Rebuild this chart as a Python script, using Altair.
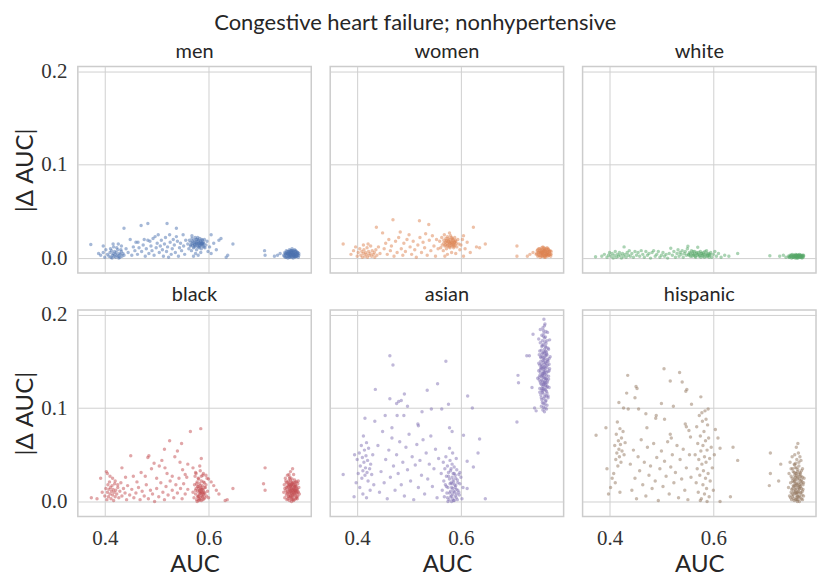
import altair as alt
import pandas as pd

groups = ["men", "women", "white", "black", "asian", "hispanic"]
colors = ["#4C72B0", "#DD8452", "#55A868", "#C44E52", "#8172B3", "#937860"]
x_ticks = [0.4, 0.6]
y_ticks = [0.0, 0.1, 0.2]

men = [
    (0.405,0.004),(0.408,0.002),(0.410,0.006),(0.412,0.001),(0.413,0.008),(0.415,0.003),(0.416,0.005),(0.418,0.002),
    (0.419,0.007),(0.420,0.004),(0.421,0.001),(0.422,0.006),(0.424,0.003),(0.425,0.009),(0.426,0.002),(0.428,0.005),
    (0.429,0.001),(0.430,0.004),(0.432,0.007),(0.433,0.002),(0.435,0.005),(0.437,0.003),(0.411,0.010),(0.417,0.012),
    (0.423,0.011),(0.414,0.000),(0.427,0.000),(0.431,0.009),
    (0.373,0.0145),(0.388,0.005),(0.392,0.003),(0.397,0.013),(0.397,0.006),(0.400,0.001),(0.402,0.009),
    (0.416,0.015),(0.426,0.015),(0.432,0.013),(0.437,0.032),(0.441,0.010),(0.445,0.006),(0.449,0.020),(0.452,0.003),
    (0.455,0.012),(0.458,0.008),(0.460,0.017),(0.463,0.004),(0.464,0.017),(0.466,0.011),(0.470,0.035),(0.471,0.007),
    (0.474,0.014),(0.476,0.020),(0.478,0.002),(0.480,0.010),(0.483,0.037),(0.483,0.019),(0.485,0.005),(0.487,0.018),
    (0.489,0.013),(0.491,0.008),(0.493,0.021),(0.495,0.003),(0.497,0.023),(0.499,0.011),(0.501,0.016),(0.503,0.025),
    (0.505,0.006),(0.507,0.013),(0.509,0.019),(0.511,0.009),(0.513,0.002),(0.515,0.015),(0.517,0.022),(0.519,0.007),
    (0.520,0.037),(0.521,0.012),(0.523,0.001),(0.525,0.025),(0.526,0.017),(0.528,0.004),(0.530,0.010),(0.532,0.020),
    (0.534,0.014),(0.536,0.006),(0.538,0.032),(0.538,0.023),(0.540,0.018),(0.542,0.002),(0.544,0.011),(0.546,0.016),
    (0.548,0.008),(0.551,0.025),(0.552,0.013),(0.554,0.004),(0.556,0.019),
    (0.560,0.015),(0.562,0.010),(0.563,0.019),(0.565,0.013),(0.566,0.017),(0.567,0.008),(0.568,0.021),(0.569,0.014),
    (0.570,0.016),(0.571,0.011),(0.572,0.019),(0.573,0.015),(0.574,0.022),(0.575,0.013),(0.576,0.017),(0.577,0.009),
    (0.578,0.020),(0.579,0.015),(0.580,0.018),(0.581,0.012),(0.582,0.016),(0.583,0.021),(0.584,0.014),(0.585,0.018),
    (0.586,0.010),(0.587,0.016),(0.588,0.019),(0.589,0.013),(0.590,0.017),(0.591,0.015),(0.592,0.020),(0.593,0.011),
    (0.595,0.014),(0.597,0.018),(0.599,0.007),(0.575,0.005),(0.580,0.003),(0.571,0.002),(0.585,0.006),(0.568,0.024),
    (0.566,0.014),(0.569,0.018),(0.572,0.012),(0.574,0.017),(0.576,0.020),(0.578,0.013),(0.580,0.015),(0.581,0.019),
    (0.583,0.013),(0.584,0.017),(0.586,0.014),(0.587,0.020),(0.589,0.016),(0.591,0.012),(0.577,0.016),(0.582,0.011),
    (0.585,0.016),(0.579,0.022),(0.573,0.014),(0.588,0.015),
    (0.602,0.012),(0.605,0.025),(0.605,0.005),(0.610,0.016),(0.615,0.009),(0.620,0.019),(0.624,0.021),(0.634,0.001),
    (0.637,0.003),(0.647,0.015),
    (0.708,0.008),(0.709,0.003),(0.727,0.002),(0.733,0.003),(0.738,0.005),
    (0.745,0.003),(0.747,0.006),(0.748,0.001),(0.749,0.004),(0.750,0.008),(0.751,0.002),(0.752,0.005),(0.753,0.000),
    (0.754,0.007),(0.755,0.003),(0.756,0.009),(0.757,0.001),(0.758,0.005),(0.759,0.006),(0.760,0.002),(0.761,0.008),
    (0.762,0.004),(0.763,0.000),(0.764,0.006),(0.765,0.003),(0.766,0.009),(0.767,0.001),(0.768,0.005),(0.769,0.007),
    (0.770,0.002),(0.771,0.004),(0.772,0.006),(0.773,0.001),(0.774,0.003),(0.756,0.005),(0.760,0.004),(0.764,0.002),
    (0.758,0.008),(0.762,0.007),(0.766,0.004),(0.750,0.005),(0.754,0.002),(0.768,0.002),(0.761,0.010),(0.757,0.003),
    (0.746,0.002),(0.748,0.005),(0.750,0.001),(0.752,0.007),(0.753,0.004),(0.755,0.006),(0.756,0.001),(0.757,0.007),
    (0.759,0.003),(0.760,0.006),(0.761,0.001),(0.763,0.005),(0.764,0.008),(0.765,0.002),(0.767,0.005),(0.768,0.008),
    (0.769,0.002),(0.771,0.006),(0.772,0.003),(0.774,0.005),(0.758,0.002),(0.762,0.006),(0.766,0.002),(0.770,0.005),
    (0.754,0.005),(0.760,0.008),(0.764,0.004),(0.757,0.004),(0.763,0.003),(0.767,0.007),
]

women = [
    (0.373,0.015),(0.388,0.004),(0.393,0.008),(0.397,0.012),(0.400,0.002),(0.402,0.006),(0.405,0.010),(0.407,0.003),
    (0.409,0.007),(0.410,0.001),(0.412,0.005),(0.413,0.009),(0.415,0.002),(0.416,0.006),(0.418,0.004),(0.419,0.011),
    (0.420,0.001),(0.422,0.007),(0.423,0.003),(0.425,0.005),(0.426,0.013),(0.428,0.002),(0.429,0.008),(0.431,0.004),
    (0.433,0.006),(0.434,0.001),(0.436,0.009),(0.438,0.003),(0.412,0.014),(0.421,0.015),(0.437,0.033),(0.441,0.012),
    (0.444,0.005),(0.449,0.027),(0.452,0.010),
    (0.455,0.016),(0.458,0.004),(0.461,0.020),(0.464,0.008),(0.466,0.013),(0.469,0.041),(0.471,0.002),(0.474,0.018),
    (0.477,0.006),(0.480,0.022),(0.483,0.028),(0.485,0.010),(0.488,0.003),(0.490,0.016),(0.493,0.007),(0.496,0.020),
    (0.500,0.025),(0.502,0.012),(0.505,0.004),(0.508,0.018),(0.511,0.009),(0.514,0.001),(0.517,0.014),(0.520,0.040),
    (0.521,0.022),(0.524,0.006),(0.527,0.017),(0.530,0.011),(0.532,0.026),(0.535,0.003),(0.538,0.036),(0.539,0.019),
    (0.542,0.008),(0.545,0.024),(0.548,0.013),(0.551,0.002),(0.553,0.020),(0.556,0.010),
    (0.559,0.018),(0.561,0.011),(0.563,0.022),(0.564,0.014),(0.566,0.008),(0.567,0.019),(0.568,0.025),(0.569,0.013),
    (0.570,0.017),(0.571,0.021),(0.572,0.010),(0.573,0.016),(0.574,0.023),(0.575,0.014),(0.576,0.018),(0.577,0.012),
    (0.578,0.020),(0.579,0.016),(0.580,0.024),(0.581,0.013),(0.582,0.017),(0.583,0.021),(0.584,0.015),(0.585,0.019),
    (0.586,0.011),(0.587,0.017),(0.588,0.022),(0.589,0.014),(0.590,0.018),(0.592,0.012),(0.594,0.020),(0.596,0.015),
    (0.598,0.009),(0.574,0.004),(0.582,0.006),(0.569,0.002),(0.590,0.005),(0.578,0.027),
    (0.567,0.016),(0.570,0.014),(0.572,0.019),(0.574,0.013),(0.576,0.021),(0.578,0.015),(0.580,0.018),(0.581,0.014),
    (0.583,0.017),(0.584,0.020),(0.586,0.015),(0.587,0.013),(0.589,0.019),(0.591,0.016),(0.577,0.017),(0.582,0.022),
    (0.585,0.013),(0.579,0.011),(0.573,0.018),(0.588,0.017),
    (0.600,0.014),(0.603,0.020),(0.605,0.024),(0.608,0.010),(0.612,0.017),(0.618,0.006),(0.624,0.033),(0.630,0.012),
    (0.636,0.011),(0.647,0.015),(0.605,0.002),
    (0.708,0.013),(0.708,0.002),(0.728,0.002),(0.733,0.004),(0.739,0.006),
    (0.745,0.004),(0.747,0.008),(0.748,0.002),(0.749,0.006),(0.750,0.010),(0.751,0.003),(0.752,0.007),(0.753,0.001),
    (0.754,0.009),(0.755,0.005),(0.756,0.011),(0.757,0.002),(0.758,0.006),(0.759,0.008),(0.760,0.003),(0.761,0.010),
    (0.762,0.005),(0.763,0.001),(0.764,0.007),(0.765,0.004),(0.766,0.011),(0.767,0.002),(0.768,0.006),(0.769,0.009),
    (0.770,0.003),(0.771,0.005),(0.772,0.008),(0.773,0.002),(0.774,0.004),(0.756,0.006),(0.760,0.007),(0.764,0.003),
    (0.758,0.012),(0.762,0.009),(0.766,0.006),(0.750,0.006),(0.754,0.003),(0.768,0.004),(0.761,0.001),(0.757,0.005),
    (0.746,0.005),(0.748,0.009),(0.750,0.003),(0.752,0.010),(0.753,0.006),(0.755,0.008),(0.756,0.002),(0.757,0.009),
    (0.759,0.004),(0.760,0.008),(0.761,0.002),(0.763,0.007),(0.764,0.010),(0.765,0.003),(0.767,0.007),(0.768,0.010),
    (0.769,0.003),(0.771,0.007),(0.772,0.004),(0.774,0.007),(0.758,0.003),(0.762,0.008),(0.766,0.004),(0.770,0.007),
    (0.754,0.006),(0.760,0.011),(0.764,0.005),(0.757,0.006),(0.763,0.004),(0.767,0.009),
]

white = [
    (0.373,0.0015),(0.385,0.002),(0.390,0.004),(0.395,0.001),(0.398,0.003),(0.400,0.006),(0.403,0.002),(0.405,0.005),
    (0.407,0.000),(0.409,0.003),(0.411,0.007),(0.413,0.001),(0.415,0.004),(0.417,0.002),(0.419,0.006),(0.421,0.003),
    (0.423,0.000),(0.425,0.005),(0.427,0.002),(0.428,0.012),(0.430,0.004),(0.432,0.001),(0.434,0.006),(0.436,0.003),
    (0.438,0.008),(0.440,0.002),(0.443,0.005),(0.446,0.001),(0.449,0.007),(0.452,0.003),
    (0.455,0.006),(0.458,0.002),(0.461,0.008),(0.464,0.004),(0.467,0.001),(0.470,0.007),(0.473,0.003),(0.476,0.005),
    (0.479,0.000),(0.482,0.006),(0.485,0.008),(0.488,0.002),(0.491,0.004),(0.494,0.007),(0.497,0.001),(0.500,0.003),
    (0.503,0.006),(0.506,0.002),(0.509,0.004),(0.512,0.000),(0.515,0.005),(0.518,0.0105),(0.521,0.003),(0.524,0.007),
    (0.527,0.001),
    (0.530,0.005),(0.532,0.009),(0.534,0.002),(0.536,0.006),(0.538,0.004),(0.540,0.008),(0.542,0.001),(0.544,0.005),
    (0.546,0.007),(0.548,0.003),(0.550,0.010),(0.551,0.0127),(0.552,0.004),(0.554,0.006),(0.556,0.002),(0.558,0.008),
    (0.560,0.005),(0.562,0.003),(0.564,0.007),(0.566,0.001),(0.568,0.006),(0.570,0.0116),(0.571,0.004),(0.573,0.002),
    (0.575,0.007),(0.577,0.005),(0.579,0.003),(0.581,0.006),(0.583,0.001),(0.585,0.004),(0.587,0.008),(0.589,0.002),
    (0.591,0.005),(0.593,0.003),(0.595,0.006),(0.597,0.001),(0.600,0.004),(0.603,0.007),(0.606,0.002),(0.610,0.005),
    (0.615,0.001),(0.622,0.003),(0.630,0.002),(0.647,0.005),
    (0.553,0.003),(0.556,0.005),(0.559,0.002),(0.561,0.007),(0.563,0.004),(0.565,0.002),(0.567,0.005),(0.569,0.003),
    (0.572,0.006),(0.574,0.003),(0.576,0.001),(0.578,0.005),(0.580,0.002),(0.582,0.004),(0.584,0.007),(0.586,0.002),
    (0.588,0.005),(0.590,0.003),(0.592,0.001),(0.594,0.004),
    (0.709,0.0025),(0.728,0.002),(0.735,0.003),(0.740,0.001),
    (0.745,0.002),(0.747,0.001),(0.748,0.003),(0.750,0.002),(0.751,0.000),(0.752,0.004),(0.754,0.001),(0.755,0.003),
    (0.757,0.002),(0.758,0.000),(0.759,0.004),(0.760,0.001),(0.761,0.003),(0.762,0.002),(0.763,0.000),(0.764,0.003),
    (0.765,0.001),(0.766,0.004),(0.767,0.002),(0.768,0.001),(0.769,0.003),(0.770,0.002),(0.771,0.000),(0.772,0.002),
    (0.773,0.001),(0.774,0.003),(0.756,0.002),(0.762,0.003),
    (0.746,0.001),(0.749,0.002),(0.751,0.003),(0.753,0.001),(0.756,0.003),(0.758,0.002),(0.760,0.003),(0.762,0.001),
    (0.764,0.002),(0.766,0.002),(0.768,0.003),(0.770,0.001),(0.772,0.003),(0.774,0.002),(0.755,0.001),(0.759,0.002),
    (0.763,0.002),(0.767,0.001),(0.761,0.000),(0.765,0.003),
]

black = [
    (0.374,0.004),(0.385,0.003),(0.392,0.025),(0.395,0.010),(0.403,0.032),(0.405,0.030),(0.410,0.027),(0.415,0.025),
    (0.420,0.022),(0.425,0.018),(0.433,0.036),(0.440,0.026),(0.450,0.049),(0.455,0.027),(0.462,0.021),(0.470,0.031),
    (0.478,0.027),(0.483,0.047),(0.485,0.049),(0.490,0.035),(0.495,0.041),(0.500,0.025),(0.505,0.038),(0.510,0.044),
    (0.515,0.056),(0.516,0.036),(0.520,0.030),(0.525,0.065),(0.530,0.027),(0.535,0.048),(0.540,0.054),(0.545,0.042),
    (0.548,0.062),(0.550,0.034),(0.555,0.029),(0.560,0.040),(0.565,0.075),(0.570,0.036),(0.575,0.031),(0.585,0.078),
    (0.586,0.046),(0.590,0.030),(0.595,0.028),(0.600,0.024),(0.605,0.021),(0.610,0.017),(0.615,0.012),(0.620,0.008),
    (0.632,0.001),(0.636,0.002),(0.647,0.014),(0.706,0.019),(0.709,0.036),(0.709,0.012),
    (0.400,0.006),(0.402,0.014),(0.404,0.002),(0.405,0.010),(0.406,0.018),(0.407,0.005),(0.408,0.013),(0.409,0.021),
    (0.410,0.008),(0.411,0.015),(0.412,0.003),(0.413,0.011),(0.414,0.017),(0.415,0.007),(0.416,0.013),(0.417,0.001),
    (0.418,0.010),(0.419,0.019),(0.420,0.005),(0.421,0.012),(0.423,0.008),(0.425,0.015),(0.427,0.004),(0.429,0.011),
    (0.431,0.020),(0.433,0.006),(0.436,0.014),(0.439,0.009),(0.442,0.002),(0.444,0.017),
    (0.448,0.007),(0.452,0.013),(0.456,0.004),(0.460,0.009),(0.465,0.015),(0.468,0.002),(0.472,0.011),(0.476,0.006),
    (0.480,0.018),(0.484,0.003),(0.488,0.012),(0.492,0.008),(0.496,0.000),(0.500,0.014),(0.504,0.005),(0.508,0.020),
    (0.512,0.010),(0.515,0.002),(0.518,0.016),(0.522,0.007),(0.526,0.022),(0.530,0.012),(0.533,0.004),(0.537,0.018),
    (0.540,0.009),(0.543,0.025),(0.546,0.014),(0.549,0.003),(0.552,0.019),(0.555,0.008),(0.558,0.026),(0.560,0.013),
    (0.570,0.010),(0.572,0.004),(0.573,0.018),(0.574,0.027),(0.575,0.008),(0.576,0.014),(0.577,0.002),(0.578,0.021),
    (0.579,0.011),(0.580,0.006),(0.580,0.016),(0.581,0.024),(0.582,0.003),(0.582,0.012),(0.583,0.019),(0.584,0.008),
    (0.584,0.033),(0.585,0.014),(0.586,0.001),(0.586,0.022),(0.587,0.010),(0.588,0.005),(0.588,0.017),(0.589,0.028),
    (0.590,0.012),(0.591,0.003),(0.592,0.020),(0.593,0.009),(0.594,0.015),(0.596,0.006),(0.597,0.025),(0.598,0.011),
    (0.600,0.004),(0.578,0.000),(0.583,0.038),(0.576,0.030),(0.590,0.007),(0.585,0.009),(0.581,0.005),(0.587,0.013),
    (0.575,0.012),(0.577,0.019),(0.579,0.005),(0.580,0.025),(0.581,0.014),(0.582,0.008),(0.583,0.002),(0.584,0.017),
    (0.585,0.011),(0.586,0.027),(0.587,0.006),(0.588,0.013),(0.589,0.002),(0.590,0.021),(0.591,0.010),(0.592,0.015),
    (0.593,0.004),(0.595,0.018),(0.583,0.011),(0.585,0.004),(0.588,0.009),(0.579,0.016),(0.591,0.008),(0.586,0.015),
    (0.581,0.001),
    (0.745,0.010),(0.746,0.018),(0.747,0.004),(0.748,0.025),(0.749,0.012),(0.750,0.007),(0.750,0.020),(0.751,0.002),
    (0.752,0.015),(0.752,0.028),(0.753,0.009),(0.754,0.022),(0.754,0.005),(0.755,0.013),(0.756,0.018),(0.756,0.001),
    (0.757,0.010),(0.757,0.026),(0.758,0.006),(0.758,0.016),(0.759,0.021),(0.759,0.011),(0.760,0.003),(0.760,0.014),
    (0.761,0.008),(0.761,0.024),(0.762,0.012),(0.762,0.017),(0.763,0.005),(0.763,0.020),(0.764,0.010),(0.764,0.029),
    (0.765,0.015),(0.765,0.002),(0.766,0.012),(0.766,0.023),(0.767,0.007),(0.767,0.018),(0.768,0.011),(0.769,0.004),
    (0.769,0.016),(0.770,0.021),(0.770,0.009),(0.771,0.013),(0.772,0.006),(0.772,0.019),(0.773,0.010),(0.774,0.015),
    (0.775,0.008),(0.758,0.032),(0.762,0.035),(0.755,0.029),(0.760,0.000),(0.764,0.001),(0.756,0.008),(0.768,0.003),
    (0.753,0.017),(0.761,0.019),(0.766,0.016),(0.759,0.006),
    (0.747,0.014),(0.749,0.022),(0.751,0.009),(0.753,0.003),(0.755,0.019),(0.756,0.012),(0.757,0.004),(0.758,0.023),
    (0.759,0.015),(0.760,0.009),(0.761,0.020),(0.762,0.002),(0.763,0.013),(0.764,0.018),(0.765,0.007),(0.766,0.020),
    (0.767,0.012),(0.768,0.017),(0.769,0.009),(0.770,0.014),(0.771,0.003),(0.772,0.011),(0.773,0.022),(0.750,0.015),
    (0.752,0.011),(0.754,0.016),(0.756,0.025),(0.758,0.011),(0.760,0.018),(0.762,0.007),(0.764,0.014),(0.766,0.009),
    (0.768,0.021),(0.770,0.005),(0.757,0.014),(0.761,0.012),(0.765,0.011),(0.759,0.017),(0.763,0.009),(0.755,0.006),
    (0.767,0.015),(0.753,0.020),(0.769,0.012),(0.761,0.004),(0.757,0.018),
]

asian = [
    (0.760,0.195),(0.762,0.190),(0.758,0.186),(0.764,0.182),(0.756,0.178),(0.761,0.175),(0.766,0.172),(0.753,0.170),
    (0.759,0.168),(0.763,0.166),(0.768,0.164),(0.755,0.162),(0.760,0.160),(0.765,0.158),(0.751,0.157),(0.757,0.155),
    (0.762,0.153),(0.767,0.152),(0.754,0.150),(0.759,0.149),(0.764,0.148),(0.770,0.147),(0.752,0.146),(0.757,0.145),
    (0.761,0.144),(0.766,0.143),(0.756,0.142),(0.760,0.141),(0.763,0.140),(0.768,0.139),(0.753,0.138),(0.758,0.137),
    (0.762,0.136),(0.765,0.135),(0.755,0.134),(0.760,0.133),(0.764,0.132),(0.769,0.131),(0.751,0.130),(0.757,0.129),
    (0.761,0.128),(0.766,0.127),(0.754,0.126),(0.759,0.125),(0.763,0.124),(0.767,0.123),(0.756,0.121),(0.761,0.120),
    (0.765,0.118),(0.752,0.117),(0.758,0.116),(0.762,0.114),(0.768,0.113),(0.755,0.111),(0.760,0.110),(0.764,0.108),
    (0.757,0.106),(0.762,0.104),(0.759,0.101),(0.765,0.099),(0.761,0.096),(0.758,0.159),(0.763,0.161),(0.757,0.167),
    (0.764,0.156),(0.760,0.152),(0.766,0.150),(0.755,0.147),(0.761,0.138),(0.759,0.143),(0.763,0.130),(0.757,0.135),
    (0.760,0.127),(0.765,0.122),(0.756,0.119),(0.762,0.171),(0.760,0.180),(0.770,0.140),(0.750,0.140),(0.772,0.155),
    (0.748,0.132),
    (0.753,0.184),(0.767,0.181),(0.759,0.177),(0.750,0.174),(0.771,0.173),(0.764,0.169),(0.756,0.166),(0.769,0.163),
    (0.752,0.161),(0.761,0.159),(0.766,0.157),(0.754,0.154),(0.770,0.153),(0.758,0.151),(0.763,0.149),(0.750,0.148),
    (0.767,0.146),(0.755,0.144),(0.762,0.143),(0.771,0.142),(0.753,0.141),(0.759,0.139),(0.765,0.138),(0.757,0.136),
    (0.769,0.134),(0.751,0.133),(0.762,0.132),(0.756,0.130),(0.767,0.129),(0.753,0.128),(0.760,0.126),(0.764,0.125),
    (0.758,0.123),(0.770,0.122),(0.752,0.121),(0.763,0.119),(0.757,0.117),(0.766,0.116),(0.754,0.114),(0.761,0.112),
    (0.768,0.111),(0.756,0.109),(0.763,0.107),(0.759,0.105),(0.766,0.103),(0.755,0.102),(0.762,0.100),(0.758,0.098),
    (0.765,0.160),(0.756,0.158),(0.762,0.156),(0.759,0.154),(0.764,0.145),(0.754,0.143),(0.761,0.147),(0.758,0.133),
    (0.765,0.131),(0.760,0.137),(0.756,0.125),(0.763,0.127),(0.759,0.121),(0.765,0.113),(0.758,0.119),(0.761,0.163),
    (0.757,0.172),(0.763,0.176),(0.759,0.183),(0.761,0.188),(0.764,0.165),(0.754,0.155),(0.768,0.150),(0.752,0.135),
    (0.727,0.156),(0.732,0.156),(0.739,0.179),(0.737,0.122),(0.710,0.135),(0.711,0.127),(0.708,0.085),(0.742,0.100),
    (0.745,0.097),
    (0.463,0.156),(0.469,0.146),(0.571,0.150),(0.555,0.126),(0.535,0.119),(0.435,0.120),(0.463,0.110),(0.476,0.105),
    (0.480,0.107),(0.485,0.108),(0.491,0.115),(0.497,0.102),(0.576,0.104),(0.563,0.099),(0.543,0.099),(0.525,0.096),
    (0.454,0.092),(0.477,0.092),(0.490,0.092),(0.415,0.089),(0.434,0.086),(0.517,0.083),(0.518,0.081),(0.467,0.079),
    (0.578,0.079),(0.583,0.075),(0.613,0.113),(0.622,0.100),(0.636,0.067),(0.633,0.052),(0.624,0.037),(0.647,0.003),
    (0.612,0.014),(0.605,0.071),(0.612,0.043),(0.373,0.029),(0.394,0.005),
    (0.400,0.045),(0.402,0.030),(0.404,0.052),(0.406,0.038),(0.408,0.060),(0.409,0.025),(0.410,0.047),(0.411,0.033),
    (0.412,0.070),(0.413,0.042),(0.414,0.055),(0.415,0.028),(0.416,0.036),(0.417,0.049),(0.418,0.063),(0.419,0.031),
    (0.420,0.044),(0.421,0.022),(0.422,0.057),(0.424,0.035),(0.426,0.040),(0.428,0.029),(0.430,0.050),(0.405,0.015),
    (0.411,0.008),(0.418,0.004),(0.425,0.012),(0.432,0.018),(0.398,0.020),(0.395,0.050),
    (0.440,0.060),(0.443,0.010),(0.446,0.032),(0.449,0.075),(0.452,0.020),(0.455,0.045),(0.458,0.003),(0.461,0.055),
    (0.464,0.026),(0.467,0.068),(0.470,0.038),(0.473,0.012),(0.476,0.050),(0.479,0.030),(0.482,0.064),(0.485,0.018),
    (0.488,0.042),(0.491,0.006),(0.494,0.058),(0.497,0.034),(0.500,0.072),(0.503,0.022),(0.506,0.048),(0.509,0.002),
    (0.512,0.039),(0.515,0.061),(0.518,0.015),(0.521,0.044),(0.524,0.028),(0.527,0.066),(0.530,0.008),(0.533,0.052),
    (0.536,0.024),(0.539,0.040),(0.542,0.070),(0.545,0.016),(0.548,0.035),(0.551,0.056),(0.554,0.004),(0.557,0.046),
    (0.562,0.030),(0.564,0.012),(0.566,0.042),(0.567,0.022),(0.568,0.005),(0.569,0.035),(0.570,0.018),(0.571,0.048),
    (0.572,0.027),(0.573,0.009),(0.574,0.038),(0.575,0.015),(0.576,0.031),(0.577,0.002),(0.578,0.024),(0.579,0.044),
    (0.580,0.011),(0.580,0.033),(0.581,0.020),(0.582,0.006),(0.583,0.040),(0.583,0.026),(0.584,0.014),(0.585,0.030),
    (0.586,0.001),(0.586,0.021),(0.587,0.037),(0.588,0.010),(0.589,0.028),(0.590,0.017),(0.591,0.004),(0.592,0.034),
    (0.593,0.023),(0.594,0.012),(0.596,0.029),(0.597,0.007),(0.598,0.019),(0.600,0.026),(0.602,0.003),(0.604,0.015),
    (0.584,0.052),(0.578,0.057),(0.591,0.046),(0.575,0.000),(0.582,0.000),
    (0.572,0.016),(0.574,0.004),(0.576,0.027),(0.578,0.009),(0.579,0.019),(0.581,0.035),(0.582,0.015),(0.584,0.003),
    (0.585,0.023),(0.586,0.011),(0.587,0.030),(0.588,0.018),(0.589,0.006),(0.590,0.025),(0.591,0.013),(0.593,0.002),
    (0.594,0.020),(0.596,0.010),(0.598,0.031),(0.584,0.008),(0.587,0.001),(0.580,0.005),(0.589,0.015),(0.583,0.019),
    (0.592,0.008),
]

hispanic = [
    (0.505,0.142),(0.535,0.138),(0.435,0.135),(0.517,0.129),(0.451,0.123),(0.453,0.121),(0.549,0.120),(0.547,0.118),
    (0.540,0.128),(0.433,0.116),(0.449,0.111),(0.576,0.112),(0.500,0.105),(0.558,0.104),(0.418,0.106),(0.427,0.100),
    (0.436,0.099),(0.456,0.099),(0.523,0.102),(0.590,0.099),(0.374,0.071),(0.393,0.079),(0.490,0.092),(0.489,0.089),
    (0.470,0.094),(0.506,0.088),(0.472,0.079),(0.517,0.072),(0.519,0.068),(0.546,0.083),(0.548,0.080),(0.553,0.076),
    (0.556,0.069),(0.604,0.077),(0.609,0.068),(0.613,0.057),(0.638,0.058),(0.647,0.044),(0.633,0.005),(0.613,0.000),
    (0.710,0.052),(0.710,0.030),(0.708,0.017),(0.730,0.040),(0.726,0.022),
    (0.410,0.060),(0.412,0.045),(0.413,0.072),(0.414,0.052),(0.415,0.085),(0.416,0.038),(0.417,0.065),(0.418,0.056),
    (0.419,0.048),(0.420,0.078),(0.421,0.061),(0.422,0.042),(0.423,0.068),(0.424,0.054),(0.426,0.075),(0.428,0.050),
    (0.430,0.063),(0.408,0.030),(0.411,0.020),(0.402,0.015),(0.398,0.008),(0.405,0.025),(0.395,0.035),(0.420,0.010),
    (0.440,0.040),(0.443,0.012),(0.446,0.055),(0.449,0.025),(0.452,0.003),(0.455,0.048),(0.458,0.033),(0.461,0.066),
    (0.464,0.018),(0.467,0.042),(0.470,0.006),(0.473,0.058),(0.476,0.028),(0.479,0.038),(0.482,0.014),(0.485,0.062),
    (0.488,0.022),(0.491,0.047),(0.494,0.001),(0.497,0.035),(0.500,0.054),(0.503,0.016),(0.506,0.043),(0.509,0.027),
    (0.512,0.064),(0.515,0.008),(0.518,0.037),(0.521,0.050),(0.524,0.020),(0.527,0.031),(0.530,0.060),(0.533,0.004),
    (0.536,0.045),(0.539,0.024),(0.542,0.056),(0.545,0.012),(0.548,0.036),(0.551,0.002),(0.554,0.050),(0.557,0.026),
    (0.565,0.050),(0.567,0.020),(0.568,0.080),(0.569,0.035),(0.570,0.062),(0.571,0.010),(0.572,0.045),(0.573,0.092),
    (0.574,0.028),(0.575,0.070),(0.576,0.054),(0.577,0.003),(0.578,0.040),(0.579,0.086),(0.580,0.018),(0.580,0.060),
    (0.581,0.033),(0.582,0.075),(0.583,0.048),(0.583,0.008),(0.584,0.097),(0.585,0.025),(0.585,0.065),(0.586,0.042),
    (0.587,0.014),(0.588,0.055),(0.589,0.082),(0.590,0.030),(0.591,0.068),(0.592,0.005),(0.593,0.046),(0.594,0.022),
    (0.596,0.058),(0.598,0.036),(0.600,0.012),(0.602,0.050),(0.586,0.088),(0.578,0.095),(0.575,0.001),(0.588,0.000),
    (0.745,0.015),(0.746,0.030),(0.747,0.006),(0.748,0.042),(0.749,0.020),(0.750,0.010),(0.750,0.035),(0.751,0.002),
    (0.752,0.025),(0.752,0.048),(0.753,0.014),(0.754,0.032),(0.754,0.007),(0.755,0.021),(0.756,0.040),(0.756,0.001),
    (0.757,0.017),(0.757,0.028),(0.758,0.009),(0.758,0.036),(0.759,0.023),(0.759,0.012),(0.760,0.004),(0.760,0.030),
    (0.761,0.018),(0.761,0.045),(0.762,0.010),(0.762,0.026),(0.763,0.034),(0.763,0.002),(0.764,0.020),(0.764,0.052),
    (0.765,0.013),(0.765,0.038),(0.766,0.006),(0.766,0.024),(0.767,0.031),(0.767,0.016),(0.768,0.009),(0.769,0.027),
    (0.769,0.044),(0.770,0.014),(0.770,0.003),(0.771,0.021),(0.772,0.035),(0.772,0.011),(0.773,0.018),(0.774,0.006),
    (0.775,0.025),(0.760,0.058),(0.763,0.062),(0.757,0.050),(0.762,0.000),(0.758,0.019),(0.766,0.000),(0.755,0.011),
    (0.768,0.030),(0.761,0.007),(0.764,0.015),(0.759,0.041),(0.753,0.035),(0.767,0.048),
    (0.749,0.004),(0.751,0.013),(0.753,0.022),(0.755,0.003),(0.756,0.031),(0.757,0.009),(0.758,0.026),(0.759,0.002),
    (0.760,0.019),(0.761,0.036),(0.762,0.005),(0.763,0.024),(0.764,0.011),(0.765,0.029),(0.766,0.018),(0.767,0.004),
    (0.768,0.022),(0.769,0.010),(0.770,0.033),(0.771,0.007),(0.772,0.026),(0.773,0.013),(0.774,0.020),(0.750,0.027),
    (0.752,0.008),(0.754,0.017),(0.756,0.024),(0.758,0.013),(0.760,0.009),(0.762,0.032),(0.764,0.005),(0.766,0.014),
    (0.768,0.016),(0.770,0.023),(0.772,0.002),(0.757,0.039),(0.761,0.027),(0.765,0.042),(0.759,0.015),(0.763,0.017),
    (0.755,0.016),(0.767,0.027),(0.753,0.005),(0.769,0.019),(0.761,0.002),(0.757,0.022),(0.763,0.009),(0.759,0.030),
]

panels = {"men": men, "women": women, "white": white,
          "black": black, "asian": asian, "hispanic": hispanic}
panel_color = dict(zip(groups, colors))

rows = []
for g in groups:
    for a, d in panels[g]:
        rows.append({"cohort": g, "auc": a, "delta": d, "col": panel_color[g]})
df = pd.DataFrame(rows)

SANS = "Lato"
SERIF = "Liberation Serif, Times New Roman, serif"

base = alt.Chart(df).mark_circle(size=12, opacity=0.5).encode(
    x=alt.X("auc:Q",
            scale=alt.Scale(domain=[0.348, 0.798], nice=False, zero=False),
            axis=alt.Axis(values=x_ticks, format=".1f", title="AUC")),
    y=alt.Y("delta:Q",
            scale=alt.Scale(domain=[-0.016, 0.205], nice=False, zero=False),
            axis=alt.Axis(values=y_ticks, format=".1f", title="|Δ AUC|")),
    color=alt.Color("col:N", scale=None),
).properties(width=234, height=207)

chart = base.facet(
    facet=alt.Facet("cohort:N", sort=groups, title=None,
                    header=alt.Header(labelFontSize=20, labelFont=SANS, labelColor="#262626",
                                      labelPadding=5)),
    columns=3,
    spacing={"row": 10, "column": 17},
).properties(
    title=alt.TitleParams("Congestive heart failure; nonhypertensive", fontSize=22,
                          font=SANS, fontWeight="normal", color="#262626", anchor="middle", offset=6),
    padding={"top": 3, "left": 5, "right": 5, "bottom": 5},
).configure_view(
    stroke="#cccccc", strokeWidth=1.5,
).configure_axis(
    grid=True, gridColor="#d0d0d0", gridWidth=1,
    domain=False, ticks=False,
    labelFont=SERIF, labelFontSize=21, labelColor="#333333",
    titleFont=SANS, titleFontSize=24, titleFontWeight="normal", titleColor="#262626",
).configure_axisX(
    labelPadding=10, titlePadding=4,
).configure_axisY(
    labelPadding=10, titlePadding=3,
)

chart.save("out.html", embed_options={"renderer": "svg", "actions": False})
